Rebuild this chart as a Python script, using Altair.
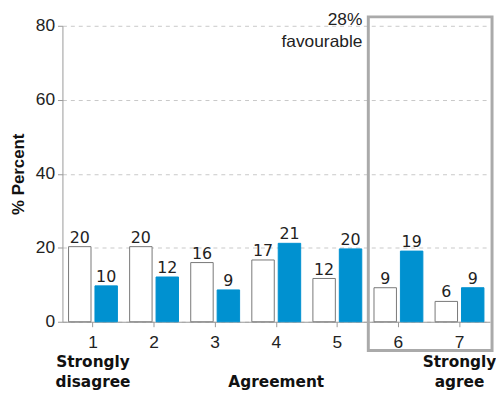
import altair as alt
import pandas as pd

categories = ["1", "2", "3", "4", "5", "6", "7"]
series_white = [20.3, 20.3, 16.0, 16.7, 11.7, 9.2, 5.5]
series_blue = [9.7, 12.1, 8.6, 21.2, 19.7, 19.1, 9.2]
series_names = ["A", "B"]
end_label_cats = ["1", "4", "7"]
end_label_text = [["Strongly", "disagree"], ["", "Agreement"], ["Strongly", "agree"]]
note_text = ["28%", "favourable"]

FONT = "Liberation Sans"
BLUE = "#0091d0"

rows = []
for c, w, b in zip(categories, series_white, series_blue):
    rows.append({"cat": c, "series": "A", "v": w})
    rows.append({"cat": c, "series": "B", "v": b})
df = pd.DataFrame(rows)

x_enc = alt.X(
    "cat:N",
    sort=categories,
    scale=alt.Scale(paddingInner=0.2, paddingOuter=0.1),
    axis=alt.Axis(
        title=None, labelAngle=0, labelFont=FONT, labelFontSize=17.5,
        labelColor="#222", labelPadding=7, domainColor="#999",
        tickColor="#999", tickSize=5, grid=False,
    ),
)
xoff = alt.XOffset("series:N", scale=alt.Scale(paddingInner=0.15))
y_enc = alt.Y(
    "v:Q",
    scale=alt.Scale(domain=[0, 80]),
    axis=alt.Axis(
        title="% Percent", values=[0, 20, 40, 60, 80], titleFont=FONT,
        titleFontSize=17, titleFontWeight="bold", titleColor="#111",
        titlePadding=8, labelFont=FONT, labelFontSize=17.5, labelColor="#222",
        labelPadding=3, domainColor="#999", tickColor="#999", tickSize=5,
        grid=True, gridDash=[4, 4], gridColor="#c8c8c8",
    ),
)

bars = alt.Chart(df).mark_bar(strokeWidth=1).encode(
    x=x_enc, xOffset=xoff, y=y_enc,
    fill=alt.Fill("series:N", scale=alt.Scale(domain=series_names, range=["white", BLUE]), legend=None),
    stroke=alt.Stroke("series:N", scale=alt.Scale(domain=series_names, range=["#777", BLUE]), legend=None),
)

labels = alt.Chart(df).mark_text(
    baseline="alphabetic", dy=-4, font="DejaVu Sans", fontSize=16, color="#222"
).encode(
    x=x_enc, xOffset=xoff, y="v:Q", text=alt.Text("v:Q", format=".0f")
)

box = alt.Chart(pd.DataFrame({"a": [0]})).mark_rect(
    fillOpacity=0, stroke="#aaa", strokeWidth=3
).encode(
    x=alt.value(309), x2=alt.value(434), y=alt.value(-9), y2=alt.value(328)
)

note = alt.Chart(pd.DataFrame({"t": [note_text]})).mark_text(
    align="right", baseline="alphabetic", font=FONT, fontSize=17.5,
    color="#222", lineHeight=22
).encode(x=alt.value(303), y=alt.value(-1), text="t")

end_df = pd.DataFrame({"cat": end_label_cats, "t": end_label_text})
end_labels = alt.Chart(end_df).mark_text(
    align="center", baseline="alphabetic", font="DejaVu Sans", fontSize=15.5,
    fontWeight="bold", color="#111", lineHeight=20
).encode(x=alt.X("cat:N", sort=categories), y=alt.value(345), text="t")

chart = alt.layer(bars, labels, box, note, end_labels).properties(
    width=432, height=299,
    autosize=alt.AutoSizeParams(type="none"),
    padding={"left": 55, "top": 16, "right": 6, "bottom": 70},
).configure_view(stroke=None)

chart.save("out.html", embed_options={"renderer": "svg", "actions": False})
